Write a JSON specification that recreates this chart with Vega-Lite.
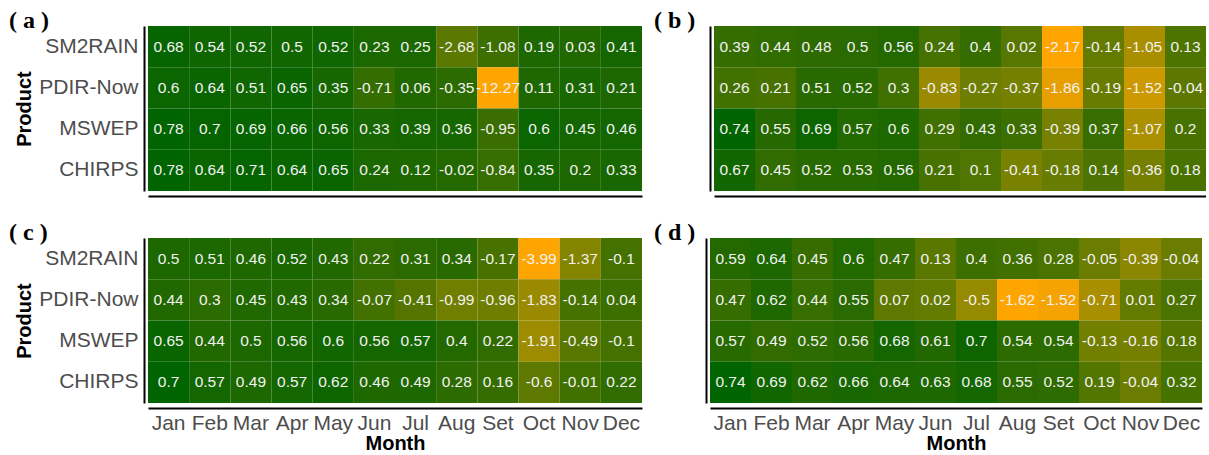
{
"$schema": "https://vega.github.io/schema/vega-lite/v6.json",
"padding": {"left": 9, "top": 9, "right": 0, "bottom": 0},
"background": "white",
"config": {
  "view": {"stroke": null},
  "axis": {"domainColor": "black", "domainWidth": 2, "ticks": false, "tickSize": 0, "grid": false,
           "labelFont": "Liberation Sans", "labelFontSize": 21, "labelColor": "#4d4d4d",
           "titleFont": "Liberation Sans", "titleFontSize": 20, "titleFontWeight": "bold", "titleColor": "black"},
  "title": {"font": "Liberation Serif", "fontSize": 24, "fontWeight": "bold", "color": "black", "anchor": "start", "frame": "group", "offset": -7}
},
"datasets": {
"cells": [
{"panel":"a","product":"SM2RAIN","month":"Jan","value":0.68},{"panel":"a","product":"SM2RAIN","month":"Feb","value":0.54},{"panel":"a","product":"SM2RAIN","month":"Mar","value":0.52},{"panel":"a","product":"SM2RAIN","month":"Apr","value":0.5},{"panel":"a","product":"SM2RAIN","month":"May","value":0.52},{"panel":"a","product":"SM2RAIN","month":"Jun","value":0.23},{"panel":"a","product":"SM2RAIN","month":"Jul","value":0.25},{"panel":"a","product":"SM2RAIN","month":"Aug","value":-2.68},{"panel":"a","product":"SM2RAIN","month":"Set","value":-1.08},{"panel":"a","product":"SM2RAIN","month":"Oct","value":0.19},{"panel":"a","product":"SM2RAIN","month":"Nov","value":0.03},{"panel":"a","product":"SM2RAIN","month":"Dec","value":0.41},
{"panel":"a","product":"PDIR-Now","month":"Jan","value":0.6},{"panel":"a","product":"PDIR-Now","month":"Feb","value":0.64},{"panel":"a","product":"PDIR-Now","month":"Mar","value":0.51},{"panel":"a","product":"PDIR-Now","month":"Apr","value":0.65},{"panel":"a","product":"PDIR-Now","month":"May","value":0.35},{"panel":"a","product":"PDIR-Now","month":"Jun","value":-0.71},{"panel":"a","product":"PDIR-Now","month":"Jul","value":0.06},{"panel":"a","product":"PDIR-Now","month":"Aug","value":-0.35},{"panel":"a","product":"PDIR-Now","month":"Set","value":-12.27},{"panel":"a","product":"PDIR-Now","month":"Oct","value":0.11},{"panel":"a","product":"PDIR-Now","month":"Nov","value":0.31},{"panel":"a","product":"PDIR-Now","month":"Dec","value":0.21},
{"panel":"a","product":"MSWEP","month":"Jan","value":0.78},{"panel":"a","product":"MSWEP","month":"Feb","value":0.7},{"panel":"a","product":"MSWEP","month":"Mar","value":0.69},{"panel":"a","product":"MSWEP","month":"Apr","value":0.66},{"panel":"a","product":"MSWEP","month":"May","value":0.56},{"panel":"a","product":"MSWEP","month":"Jun","value":0.33},{"panel":"a","product":"MSWEP","month":"Jul","value":0.39},{"panel":"a","product":"MSWEP","month":"Aug","value":0.36},{"panel":"a","product":"MSWEP","month":"Set","value":-0.95},{"panel":"a","product":"MSWEP","month":"Oct","value":0.6},{"panel":"a","product":"MSWEP","month":"Nov","value":0.45},{"panel":"a","product":"MSWEP","month":"Dec","value":0.46},
{"panel":"a","product":"CHIRPS","month":"Jan","value":0.78},{"panel":"a","product":"CHIRPS","month":"Feb","value":0.64},{"panel":"a","product":"CHIRPS","month":"Mar","value":0.71},{"panel":"a","product":"CHIRPS","month":"Apr","value":0.64},{"panel":"a","product":"CHIRPS","month":"May","value":0.65},{"panel":"a","product":"CHIRPS","month":"Jun","value":0.24},{"panel":"a","product":"CHIRPS","month":"Jul","value":0.12},{"panel":"a","product":"CHIRPS","month":"Aug","value":-0.02},{"panel":"a","product":"CHIRPS","month":"Set","value":-0.84},{"panel":"a","product":"CHIRPS","month":"Oct","value":0.35},{"panel":"a","product":"CHIRPS","month":"Nov","value":0.2},{"panel":"a","product":"CHIRPS","month":"Dec","value":0.33},
{"panel":"b","product":"SM2RAIN","month":"Jan","value":0.39},{"panel":"b","product":"SM2RAIN","month":"Feb","value":0.44},{"panel":"b","product":"SM2RAIN","month":"Mar","value":0.48},{"panel":"b","product":"SM2RAIN","month":"Apr","value":0.5},{"panel":"b","product":"SM2RAIN","month":"May","value":0.56},{"panel":"b","product":"SM2RAIN","month":"Jun","value":0.24},{"panel":"b","product":"SM2RAIN","month":"Jul","value":0.4},{"panel":"b","product":"SM2RAIN","month":"Aug","value":0.02},{"panel":"b","product":"SM2RAIN","month":"Set","value":-2.17},{"panel":"b","product":"SM2RAIN","month":"Oct","value":-0.14},{"panel":"b","product":"SM2RAIN","month":"Nov","value":-1.05},{"panel":"b","product":"SM2RAIN","month":"Dec","value":0.13},
{"panel":"b","product":"PDIR-Now","month":"Jan","value":0.26},{"panel":"b","product":"PDIR-Now","month":"Feb","value":0.21},{"panel":"b","product":"PDIR-Now","month":"Mar","value":0.51},{"panel":"b","product":"PDIR-Now","month":"Apr","value":0.52},{"panel":"b","product":"PDIR-Now","month":"May","value":0.3},{"panel":"b","product":"PDIR-Now","month":"Jun","value":-0.83},{"panel":"b","product":"PDIR-Now","month":"Jul","value":-0.27},{"panel":"b","product":"PDIR-Now","month":"Aug","value":-0.37},{"panel":"b","product":"PDIR-Now","month":"Set","value":-1.86},{"panel":"b","product":"PDIR-Now","month":"Oct","value":-0.19},{"panel":"b","product":"PDIR-Now","month":"Nov","value":-1.52},{"panel":"b","product":"PDIR-Now","month":"Dec","value":-0.04},
{"panel":"b","product":"MSWEP","month":"Jan","value":0.74},{"panel":"b","product":"MSWEP","month":"Feb","value":0.55},{"panel":"b","product":"MSWEP","month":"Mar","value":0.69},{"panel":"b","product":"MSWEP","month":"Apr","value":0.57},{"panel":"b","product":"MSWEP","month":"May","value":0.6},{"panel":"b","product":"MSWEP","month":"Jun","value":0.29},{"panel":"b","product":"MSWEP","month":"Jul","value":0.43},{"panel":"b","product":"MSWEP","month":"Aug","value":0.33},{"panel":"b","product":"MSWEP","month":"Set","value":-0.39},{"panel":"b","product":"MSWEP","month":"Oct","value":0.37},{"panel":"b","product":"MSWEP","month":"Nov","value":-1.07},{"panel":"b","product":"MSWEP","month":"Dec","value":0.2},
{"panel":"b","product":"CHIRPS","month":"Jan","value":0.67},{"panel":"b","product":"CHIRPS","month":"Feb","value":0.45},{"panel":"b","product":"CHIRPS","month":"Mar","value":0.52},{"panel":"b","product":"CHIRPS","month":"Apr","value":0.53},{"panel":"b","product":"CHIRPS","month":"May","value":0.56},{"panel":"b","product":"CHIRPS","month":"Jun","value":0.21},{"panel":"b","product":"CHIRPS","month":"Jul","value":0.1},{"panel":"b","product":"CHIRPS","month":"Aug","value":-0.41},{"panel":"b","product":"CHIRPS","month":"Set","value":-0.18},{"panel":"b","product":"CHIRPS","month":"Oct","value":0.14},{"panel":"b","product":"CHIRPS","month":"Nov","value":-0.36},{"panel":"b","product":"CHIRPS","month":"Dec","value":0.18},
{"panel":"c","product":"SM2RAIN","month":"Jan","value":0.5},{"panel":"c","product":"SM2RAIN","month":"Feb","value":0.51},{"panel":"c","product":"SM2RAIN","month":"Mar","value":0.46},{"panel":"c","product":"SM2RAIN","month":"Apr","value":0.52},{"panel":"c","product":"SM2RAIN","month":"May","value":0.43},{"panel":"c","product":"SM2RAIN","month":"Jun","value":0.22},{"panel":"c","product":"SM2RAIN","month":"Jul","value":0.31},{"panel":"c","product":"SM2RAIN","month":"Aug","value":0.34},{"panel":"c","product":"SM2RAIN","month":"Set","value":-0.17},{"panel":"c","product":"SM2RAIN","month":"Oct","value":-3.99},{"panel":"c","product":"SM2RAIN","month":"Nov","value":-1.37},{"panel":"c","product":"SM2RAIN","month":"Dec","value":-0.1},
{"panel":"c","product":"PDIR-Now","month":"Jan","value":0.44},{"panel":"c","product":"PDIR-Now","month":"Feb","value":0.3},{"panel":"c","product":"PDIR-Now","month":"Mar","value":0.45},{"panel":"c","product":"PDIR-Now","month":"Apr","value":0.43},{"panel":"c","product":"PDIR-Now","month":"May","value":0.34},{"panel":"c","product":"PDIR-Now","month":"Jun","value":-0.07},{"panel":"c","product":"PDIR-Now","month":"Jul","value":-0.41},{"panel":"c","product":"PDIR-Now","month":"Aug","value":-0.99},{"panel":"c","product":"PDIR-Now","month":"Set","value":-0.96},{"panel":"c","product":"PDIR-Now","month":"Oct","value":-1.83},{"panel":"c","product":"PDIR-Now","month":"Nov","value":-0.14},{"panel":"c","product":"PDIR-Now","month":"Dec","value":0.04},
{"panel":"c","product":"MSWEP","month":"Jan","value":0.65},{"panel":"c","product":"MSWEP","month":"Feb","value":0.44},{"panel":"c","product":"MSWEP","month":"Mar","value":0.5},{"panel":"c","product":"MSWEP","month":"Apr","value":0.56},{"panel":"c","product":"MSWEP","month":"May","value":0.6},{"panel":"c","product":"MSWEP","month":"Jun","value":0.56},{"panel":"c","product":"MSWEP","month":"Jul","value":0.57},{"panel":"c","product":"MSWEP","month":"Aug","value":0.4},{"panel":"c","product":"MSWEP","month":"Set","value":0.22},{"panel":"c","product":"MSWEP","month":"Oct","value":-1.91},{"panel":"c","product":"MSWEP","month":"Nov","value":-0.49},{"panel":"c","product":"MSWEP","month":"Dec","value":-0.1},
{"panel":"c","product":"CHIRPS","month":"Jan","value":0.7},{"panel":"c","product":"CHIRPS","month":"Feb","value":0.57},{"panel":"c","product":"CHIRPS","month":"Mar","value":0.49},{"panel":"c","product":"CHIRPS","month":"Apr","value":0.57},{"panel":"c","product":"CHIRPS","month":"May","value":0.62},{"panel":"c","product":"CHIRPS","month":"Jun","value":0.46},{"panel":"c","product":"CHIRPS","month":"Jul","value":0.49},{"panel":"c","product":"CHIRPS","month":"Aug","value":0.28},{"panel":"c","product":"CHIRPS","month":"Set","value":0.16},{"panel":"c","product":"CHIRPS","month":"Oct","value":-0.6},{"panel":"c","product":"CHIRPS","month":"Nov","value":-0.01},{"panel":"c","product":"CHIRPS","month":"Dec","value":0.22},
{"panel":"d","product":"SM2RAIN","month":"Jan","value":0.59},{"panel":"d","product":"SM2RAIN","month":"Feb","value":0.64},{"panel":"d","product":"SM2RAIN","month":"Mar","value":0.45},{"panel":"d","product":"SM2RAIN","month":"Apr","value":0.6},{"panel":"d","product":"SM2RAIN","month":"May","value":0.47},{"panel":"d","product":"SM2RAIN","month":"Jun","value":0.13},{"panel":"d","product":"SM2RAIN","month":"Jul","value":0.4},{"panel":"d","product":"SM2RAIN","month":"Aug","value":0.36},{"panel":"d","product":"SM2RAIN","month":"Set","value":0.28},{"panel":"d","product":"SM2RAIN","month":"Oct","value":-0.05},{"panel":"d","product":"SM2RAIN","month":"Nov","value":-0.39},{"panel":"d","product":"SM2RAIN","month":"Dec","value":-0.04},
{"panel":"d","product":"PDIR-Now","month":"Jan","value":0.47},{"panel":"d","product":"PDIR-Now","month":"Feb","value":0.62},{"panel":"d","product":"PDIR-Now","month":"Mar","value":0.44},{"panel":"d","product":"PDIR-Now","month":"Apr","value":0.55},{"panel":"d","product":"PDIR-Now","month":"May","value":0.07},{"panel":"d","product":"PDIR-Now","month":"Jun","value":0.02},{"panel":"d","product":"PDIR-Now","month":"Jul","value":-0.5},{"panel":"d","product":"PDIR-Now","month":"Aug","value":-1.62},{"panel":"d","product":"PDIR-Now","month":"Set","value":-1.52},{"panel":"d","product":"PDIR-Now","month":"Oct","value":-0.71},{"panel":"d","product":"PDIR-Now","month":"Nov","value":0.01},{"panel":"d","product":"PDIR-Now","month":"Dec","value":0.27},
{"panel":"d","product":"MSWEP","month":"Jan","value":0.57},{"panel":"d","product":"MSWEP","month":"Feb","value":0.49},{"panel":"d","product":"MSWEP","month":"Mar","value":0.52},{"panel":"d","product":"MSWEP","month":"Apr","value":0.56},{"panel":"d","product":"MSWEP","month":"May","value":0.68},{"panel":"d","product":"MSWEP","month":"Jun","value":0.61},{"panel":"d","product":"MSWEP","month":"Jul","value":0.7},{"panel":"d","product":"MSWEP","month":"Aug","value":0.54},{"panel":"d","product":"MSWEP","month":"Set","value":0.54},{"panel":"d","product":"MSWEP","month":"Oct","value":-0.13},{"panel":"d","product":"MSWEP","month":"Nov","value":-0.16},{"panel":"d","product":"MSWEP","month":"Dec","value":0.18},
{"panel":"d","product":"CHIRPS","month":"Jan","value":0.74},{"panel":"d","product":"CHIRPS","month":"Feb","value":0.69},{"panel":"d","product":"CHIRPS","month":"Mar","value":0.62},{"panel":"d","product":"CHIRPS","month":"Apr","value":0.66},{"panel":"d","product":"CHIRPS","month":"May","value":0.64},{"panel":"d","product":"CHIRPS","month":"Jun","value":0.63},{"panel":"d","product":"CHIRPS","month":"Jul","value":0.68},{"panel":"d","product":"CHIRPS","month":"Aug","value":0.55},{"panel":"d","product":"CHIRPS","month":"Set","value":0.52},{"panel":"d","product":"CHIRPS","month":"Oct","value":0.19},{"panel":"d","product":"CHIRPS","month":"Nov","value":-0.04},{"panel":"d","product":"CHIRPS","month":"Dec","value":0.32}
]},
"resolve": {"scale": {"color": "independent"}},
"spacing": 25,
"vconcat": [
 {"hconcat": [
  {"width": 494, "height": 165,
   "title": {"text": "( a )", "dx": -139},
   "data": {"name": "cells"},
   "transform": [{"filter": "datum.panel === 'a'"}],
   "encoding": {
     "x": {"field": "month", "type": "ordinal", "sort": ["Jan","Feb","Mar","Apr","May","Jun","Jul","Aug","Set","Oct","Nov","Dec"], "scale": {"paddingInner": 0, "paddingOuter": 0}, "axis": {"labels": false, "title": null, "offset": 5}},
     "y": {"field": "product", "type": "nominal", "sort": ["SM2RAIN","PDIR-Now","MSWEP","CHIRPS"], "scale": {"paddingInner": 0, "paddingOuter": 0}, "axis": {"title": "Product", "offset": 4, "labelPadding": 6, "titlePadding": 4}}
   },
   "layer": [
     {"mark": {"type": "rect"}, "encoding": {"color": {"field": "value", "type": "quantitative", "scale": {"range": ["#FFA500", "#006400"], "interpolate": "lab", "nice": false, "zero": false}, "legend": null}}},
     {"mark": {"type": "text", "font": "Liberation Sans", "fontSize": 15.5, "color": "#f2f2f2"}, "encoding": {"text": {"field": "value", "type": "nominal"}}}
   ]},
  {"width": 492, "height": 165,
   "title": {"text": "( b )", "dx": -60},
   "data": {"name": "cells"},
   "transform": [{"filter": "datum.panel === 'b'"}],
   "encoding": {
     "x": {"field": "month", "type": "ordinal", "sort": ["Jan","Feb","Mar","Apr","May","Jun","Jul","Aug","Set","Oct","Nov","Dec"], "scale": {"paddingInner": 0, "paddingOuter": 0}, "axis": {"labels": false, "title": null, "offset": 5}},
     "y": {"field": "product", "type": "nominal", "sort": ["SM2RAIN","PDIR-Now","MSWEP","CHIRPS"], "scale": {"paddingInner": 0, "paddingOuter": 0}, "axis": {"labels": false, "title": null, "offset": 4}}
   },
   "layer": [
     {"mark": {"type": "rect"}, "encoding": {"color": {"field": "value", "type": "quantitative", "scale": {"range": ["#FFA500", "#006400"], "interpolate": "lab", "nice": false, "zero": false}, "legend": null}}},
     {"mark": {"type": "text", "font": "Liberation Sans", "fontSize": 15.5, "color": "#f2f2f2"}, "encoding": {"text": {"field": "value", "type": "nominal"}}}
   ]}
 ], "spacing": 12, "resolve": {"scale": {"color": "independent"}}},
 {"hconcat": [
  {"width": 494, "height": 165,
   "title": {"text": "( c )", "dx": -139},
   "data": {"name": "cells"},
   "transform": [{"filter": "datum.panel === 'c'"}],
   "encoding": {
     "x": {"field": "month", "type": "ordinal", "sort": ["Jan","Feb","Mar","Apr","May","Jun","Jul","Aug","Set","Oct","Nov","Dec"], "scale": {"paddingInner": 0, "paddingOuter": 0}, "axis": {"title": "Month", "offset": 5, "labelPadding": 4, "titlePadding": 0, "labelAngle": 0, "labelOverlap": false}},
     "y": {"field": "product", "type": "nominal", "sort": ["SM2RAIN","PDIR-Now","MSWEP","CHIRPS"], "scale": {"paddingInner": 0, "paddingOuter": 0}, "axis": {"title": "Product", "offset": 4, "labelPadding": 6, "titlePadding": 4}}
   },
   "layer": [
     {"mark": {"type": "rect"}, "encoding": {"color": {"field": "value", "type": "quantitative", "scale": {"range": ["#FFA500", "#006400"], "interpolate": "lab", "nice": false, "zero": false}, "legend": null}}},
     {"mark": {"type": "text", "font": "Liberation Sans", "fontSize": 15.5, "color": "#f2f2f2"}, "encoding": {"text": {"field": "value", "type": "nominal"}}}
   ]},
  {"width": 492, "height": 165,
   "title": {"text": "( d )", "dx": -56},
   "data": {"name": "cells"},
   "transform": [{"filter": "datum.panel === 'd'"}],
   "encoding": {
     "x": {"field": "month", "type": "ordinal", "sort": ["Jan","Feb","Mar","Apr","May","Jun","Jul","Aug","Set","Oct","Nov","Dec"], "scale": {"paddingInner": 0, "paddingOuter": 0}, "axis": {"title": "Month", "offset": 5, "labelPadding": 4, "titlePadding": 0, "labelAngle": 0, "labelOverlap": false}},
     "y": {"field": "product", "type": "nominal", "sort": ["SM2RAIN","PDIR-Now","MSWEP","CHIRPS"], "scale": {"paddingInner": 0, "paddingOuter": 0}, "axis": {"labels": false, "title": null, "offset": 4}}
   },
   "layer": [
     {"mark": {"type": "rect"}, "encoding": {"color": {"field": "value", "type": "quantitative", "scale": {"range": ["#FFA500", "#006400"], "interpolate": "lab", "nice": false, "zero": false}, "legend": null}}},
     {"mark": {"type": "text", "font": "Liberation Sans", "fontSize": 15.5, "color": "#f2f2f2"}, "encoding": {"text": {"field": "value", "type": "nominal"}}}
   ]}
 ], "spacing": 12, "resolve": {"scale": {"color": "independent"}}}
]
}
